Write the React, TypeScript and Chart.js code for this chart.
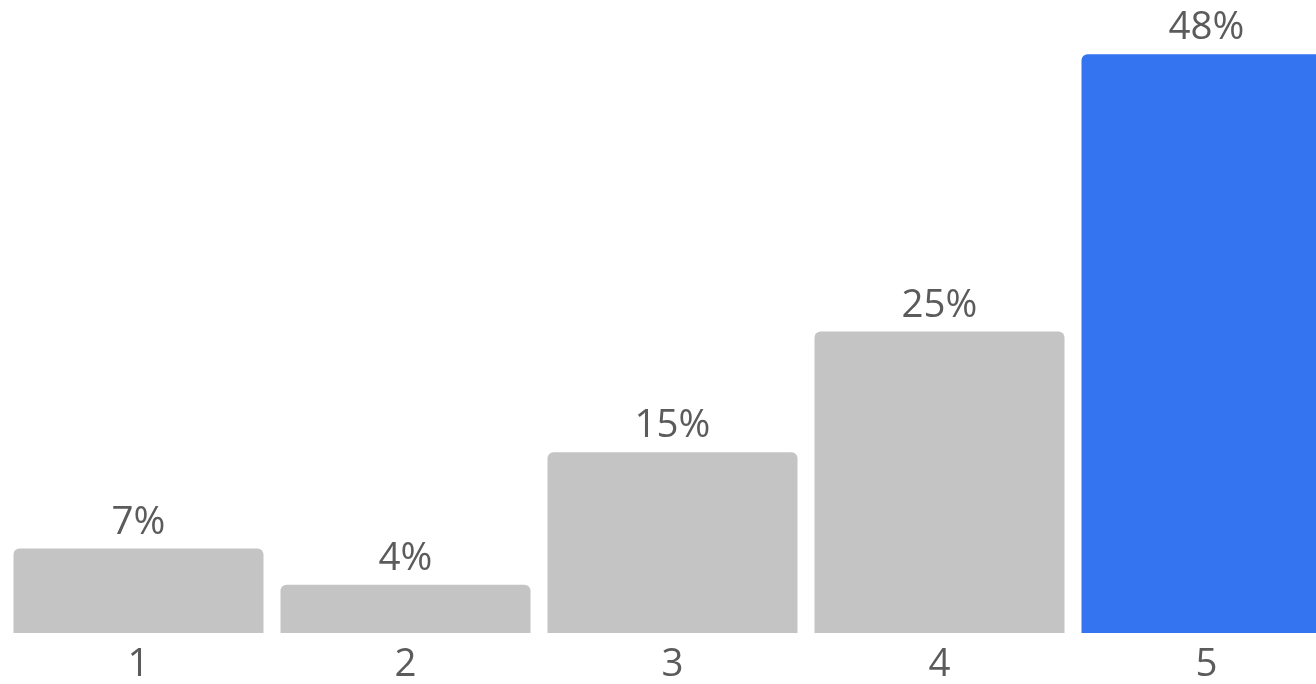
import React, { useEffect, useRef } from "react";
import { Chart, registerables } from "chart.js";

Chart.register(...registerables);

const categories = ["1", "2", "3", "4", "5"];
const values = [7, 4, 15, 25, 48];
const valueLabels = ["7%", "4%", "15%", "25%", "48%"];
const barColors = ["#c4c4c4", "#c4c4c4", "#c4c4c4", "#c4c4c4", "#3574f0"];

const FONT = "'Open Sans', sans-serif";
const TEXT = "#5b5b5b";
const FONT_SIZE = 38.5;

const valueLabelPlugin = {
  id: "valueLabels",
  afterDatasetsDraw(chart: any) {
    const ctx = chart.ctx;
    const meta = chart.getDatasetMeta(0);
    ctx.save();
    ctx.font = `${FONT_SIZE}px ${FONT}`;
    ctx.fillStyle = TEXT;
    ctx.textAlign = "center";
    ctx.textBaseline = "alphabetic";
    meta.data.forEach((bar: any, i: number) => {
      ctx.fillText(valueLabels[i], bar.x, bar.y - 15);
    });
    ctx.restore();
  },
};

export default function App() {
  const ref = useRef<HTMLCanvasElement | null>(null);
  useEffect(() => {
    if (!ref.current) return;
    const chart = new Chart(ref.current, {
      type: "bar",
      data: {
        labels: categories,
        datasets: [
          {
            data: values,
            backgroundColor: barColors,
            borderRadius: { topLeft: 6, topRight: 6, bottomLeft: 0, bottomRight: 0 },
            borderSkipped: "bottom",
            barPercentage: 1,
            categoryPercentage: 250 / 267,
          },
        ],
      },
      options: {
        responsive: false,
        animation: false,
        maintainAspectRatio: false,
        layout: { padding: { left: 0, right: 0, top: 0, bottom: 0 } },
        plugins: { legend: { display: false }, tooltip: { enabled: false } },
        scales: {
          x: {
            grid: { display: false, drawTicks: false },
            border: { display: false },
            ticks: { color: TEXT, font: { family: FONT, size: FONT_SIZE }, padding: 9 },
            afterFit: (scale: any) => {
              scale.height = 51;
            },
          },
          y: {
            display: false,
            min: 0,
            max: 52.5,
          },
        },
      },
      plugins: [valueLabelPlugin],
    });
    return () => chart.destroy();
  }, []);
  return (
    <div
      style={{
        position: "fixed",
        left: 0,
        top: 0,
        width: 1316,
        height: 684,
        overflow: "hidden",
        background: "#fff",
      }}
    >
      <canvas
        ref={ref}
        width={1335}
        height={684}
        style={{ position: "absolute", left: 4.5, top: 0, width: 1335, height: 684 }}
      />
    </div>
  );
}
